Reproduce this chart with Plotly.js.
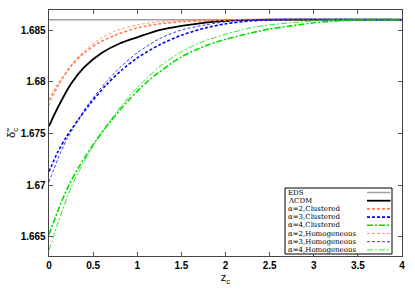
<!DOCTYPE html>
<html><head><meta charset="utf-8">
<script src="https://cdn.plot.ly/plotly-3.0.1.min.js"></script>
<style>html,body{margin:0;padding:0;background:#fff}#c{width:415px;height:291px}</style>
</head><body><div id="c"></div>
<script>
const zEDS = [0, 4];
const vEDS = [1.686, 1.686];

const zL = [0, 0.1, 0.25, 0.4, 0.6, 0.8, 1.0, 1.25, 1.5, 1.75, 2.0, 2.5, 3.0, 4.0];
const vL = [1.6757, 1.6775, 1.6798, 1.6814, 1.6828, 1.6837, 1.6843, 1.6850, 1.6854, 1.6857, 1.6859, 1.686, 1.686, 1.686];

const z2c = [0, 0.1, 0.25, 0.4, 0.55, 0.75, 1.0, 1.25, 1.5, 1.8, 2.2, 4.0];
const v2c = [1.6782, 1.6797, 1.6815, 1.6828, 1.6837, 1.6845, 1.6852, 1.6856, 1.6858, 1.6859, 1.686, 1.686];
const z2h = [0, 0.1, 0.25, 0.4, 0.55, 0.75, 1.0, 1.25, 1.5, 1.8, 4.0];
const v2h = [1.6777, 1.6795, 1.6816, 1.6830, 1.6840, 1.6849, 1.6855, 1.6858, 1.6859, 1.686, 1.686];

const z3c = [0, 0.1, 0.2, 0.33, 0.46, 0.65, 0.82, 1.0, 1.26, 1.5, 1.77, 2.0, 2.3, 2.6, 4.0];
const v3c = [1.6713, 1.6732, 1.6747, 1.6763, 1.6778, 1.6797, 1.6811, 1.6823, 1.6836, 1.6845, 1.6852, 1.6856, 1.6859, 1.686, 1.686];
const z3h = [0, 0.1, 0.2, 0.33, 0.46, 0.65, 0.82, 1.0, 1.26, 1.5, 1.77, 2.0, 2.3, 4.0];
const v3h = [1.6703, 1.6725, 1.6744, 1.6763, 1.6780, 1.6800, 1.6815, 1.6828, 1.6842, 1.6850, 1.6855, 1.6858, 1.686, 1.686];

const z4c = [0, 0.1, 0.22, 0.35, 0.54, 0.7, 0.9, 1.1, 1.26, 1.5, 1.75, 2.0, 2.28, 2.5, 2.74, 3.0, 3.3, 3.6, 4.0];
const v4c = [1.6652, 1.6675, 1.6699, 1.6719, 1.6744, 1.6762, 1.6782, 1.6799, 1.6810, 1.6824, 1.6834, 1.6841, 1.6847, 1.6851, 1.6854, 1.6857, 1.6859, 1.686, 1.686];
const z4h = [0, 0.1, 0.26, 0.4, 0.54, 0.7, 0.9, 1.1, 1.26, 1.5, 1.75, 2.0, 2.28, 2.5, 2.74, 3.0, 3.2, 4.0];
const v4h = [1.6637, 1.6663, 1.6700, 1.6723, 1.6743, 1.6763, 1.6785, 1.6803, 1.6815, 1.6829, 1.6839, 1.6846, 1.6852, 1.6855, 1.6857, 1.6859, 1.686, 1.686];

const names = ['EDS', '\u039BCDM', '\u03B1=2,Clustered', '\u03B1=3,Clustered', '\u03B1=4,Clustered',
  '\u03B1=2,Homogeneous', '\u03B1=3,Homogeneous', '\u03B1=4,Homogeneous'];

const orange = '#ff7f50', blue = '#0000ff', green = '#00e000';
const d1 = '3px,2px', d2 = '6px,2px,2px,2px';
const styles = [
  {color: '#a0a0a0', width: 1.5, dash: 'solid'},
  {color: '#000000', width: 1.8, dash: 'solid'},
  {color: orange, width: 1.6, dash: d1},
  {color: blue, width: 1.6, dash: d1},
  {color: green, width: 1.6, dash: d2},
  {color: orange, width: 0.8, dash: d1},
  {color: blue, width: 0.8, dash: d1},
  {color: green, width: 0.8, dash: d2}
];
const xs = [zEDS, zL, z2c, z3c, z4c, z2h, z3h, z4h];
const ys = [vEDS, vL, v2c, v3c, v4c, v2h, v3h, v4h];

const data = xs.map((x, i) => ({x: x, y: ys[i], name: names[i], type: 'scatter', mode: 'lines',
  line: Object.assign({shape: 'spline', smoothing: 0.8}, styles[i])}));

// custom gnuplot-style legend (text left, sample right), paper coordinates
const lgL = 0.6686, lgR = 0.9717, lgT = 0.2764, lgB = 0.0081;
const rowTop = 0.2581, rowStep = 0.03333;
const shapes = [{type: 'rect', xref: 'paper', yref: 'paper', x0: lgL, x1: lgR, y0: lgB, y1: lgT,
  line: {color: '#000', width: 1}, fillcolor: '#fff', layer: 'above'}];
const annotations = [];
names.forEach((n, i) => {
  const yy = rowTop - i * rowStep;
  annotations.push({xref: 'paper', yref: 'paper', x: lgL + 0.005, y: yy, xanchor: 'left', yanchor: 'middle',
    text: n, showarrow: false, borderpad: 0,
    font: {family: 'DejaVu Serif, Liberation Serif, serif', size: 7, color: '#000'}});
  shapes.push({type: 'line', xref: 'paper', yref: 'paper', x0: 0.9008, x1: 0.9674, y0: yy, y1: yy,
    line: styles[i], layer: 'above'});
});

const tickf = {family: 'Liberation Sans, Arial, sans-serif', size: 10, color: '#000', weight: 'bold'};
const layout = {
  width: 415, height: 291,
  margin: {l: 49, r: 13, t: 10, b: 35},
  paper_bgcolor: '#fff', plot_bgcolor: '#fff',
  showlegend: false,
  shapes: shapes, annotations: annotations,
  xaxis: {range: [0, 4], dtick: 0.5, tick0: 0, ticks: 'inside', ticklen: 4, tickcolor: '#555',
    showline: true, linecolor: '#444', linewidth: 1.3, mirror: 'ticks', showgrid: false, zeroline: false,
    tickfont: tickf, title: {text: 'z<sub>c</sub>', font: {family: 'Liberation Sans, Arial, sans-serif', size: 11, color: '#000'}, standoff: 3}},
  yaxis: {range: [1.66313, 1.68694], tickvals: [1.665, 1.67, 1.675, 1.68, 1.685], ticktext: ['1.665', '1.67', '1.675', '1.68', '1.685'],
    ticks: 'inside', ticklen: 4, tickcolor: '#555',
    showline: true, linecolor: '#444', linewidth: 1.3, mirror: 'ticks', showgrid: false, zeroline: false,
    tickfont: tickf, title: {text: '\u03B4\u0303<sub>c</sub>', font: {family: 'Liberation Sans, Arial, sans-serif', size: 11, color: '#000'}, standoff: 2}}
};
Plotly.newPlot('c', data, layout, {displayModeBar: false, staticPlot: true});
</script></body></html>
